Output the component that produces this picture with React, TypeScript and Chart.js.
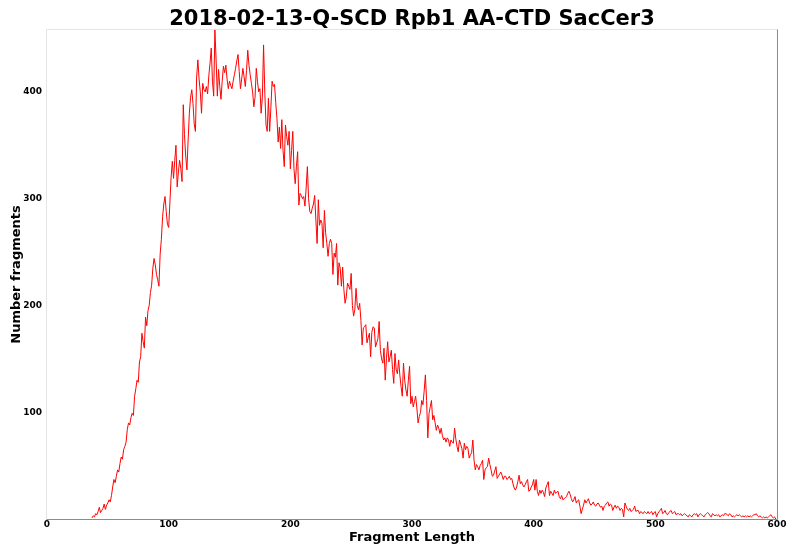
import React, { useEffect, useRef } from "react";
import { Chart, registerables } from "chart.js";

Chart.register(...registerables);

const TITLE = "2018-02-13-Q-SCD Rpb1 AA-CTD SacCer3";
const X_LABEL = "Fragment Length";
const Y_LABEL = "Number fragments";

// first fragment length in the counts list (one value per length, step 1)
const FIRST_LENGTH = 37;

const counts: number[] = [
  // 37-39
  1, 3, 2,
  // 40-99
  5, 4, 7, 11, 6, 8, 10, 14, 9, 13,
  15, 18, 16, 22, 30, 37, 34, 40, 46, 44,
  52, 58, 56, 65, 68, 72, 84, 90, 88, 95,
  99, 97, 115, 122, 130, 128, 147, 152, 174, 166,
  160, 189, 181, 195, 200, 212, 219, 235, 244, 238,
  229, 224, 218, 248, 262, 283, 295, 302, 288, 276,
  // 100-199
  273, 296, 320, 335, 319, 336, 350, 311, 325, 336,
  328, 316, 388, 360, 340, 327, 355, 380, 395, 402,
  389, 370, 363, 414, 430, 412, 400, 380, 408, 402,
  400, 405, 398, 415, 427, 441, 410, 396, 458, 430,
  396, 421, 405, 393, 410, 424, 418, 425, 412, 403,
  410, 406, 403, 410, 416, 422, 429, 435, 419, 403,
  412, 422, 414, 405, 420, 439, 425, 416, 408, 400,
  386, 395, 422, 410, 400, 403, 380, 395, 444, 400,
  369, 363, 394, 363, 385, 410, 405, 407, 390, 375,
  353, 367, 347, 374, 345, 330, 369, 358, 350, 363,
  // 200-299
  328, 345, 363, 328, 314, 330, 344, 294, 305, 303,
  300, 302, 293, 310, 330, 300, 288, 286, 291, 295,
  303, 280, 258, 299, 275, 280, 277, 254, 289, 268,
  258, 246, 258, 262, 258, 229, 249, 245, 258, 219,
  240, 235, 218, 236, 215, 202, 208, 221, 218, 215,
  230, 200, 190, 196, 216, 200, 196, 202, 186, 163,
  179, 180, 182, 165, 170, 174, 152, 175, 180, 179,
  161, 165, 169, 185, 158, 150, 146, 160, 130, 150,
  166, 147, 152, 158, 140, 127, 155, 140, 136, 149,
  135, 124, 115, 146, 130, 121, 115, 130, 143, 108,
  // 300-399
  115, 105, 110, 115, 104, 90, 96, 100, 111, 107,
  120, 135, 111, 76, 99, 105, 111, 93, 97, 90,
  83, 88, 85, 80, 85, 78, 74, 76, 72, 76,
  74, 68, 74, 72, 71, 85, 75, 68, 63, 74,
  70, 66, 57, 71, 65, 68, 66, 57, 60, 62,
  74, 55, 46, 51, 49, 46, 50, 52, 55, 37,
  46, 48, 49, 57, 51, 46, 40, 41, 45, 49,
  38, 40, 42, 44, 41, 37, 40, 40, 37, 38,
  40, 37, 38, 33, 29, 27, 30, 35, 41, 33,
  35, 32, 30, 32, 35, 37, 26, 27, 30, 32,
  // 400-499
  37, 27, 37, 26, 22, 27, 24, 27, 25, 21,
  29, 32, 35, 22, 26, 24, 22, 27, 24, 25,
  26, 21, 19, 22, 18, 19, 20, 21, 24, 26,
  23, 19, 16, 18, 21, 15, 17, 18, 12, 5,
  9, 13, 18, 15, 17, 19, 15, 13, 14, 16,
  13, 12, 14, 15, 13, 11, 12, 8, 12, 13,
  15, 16, 12, 14, 13, 8, 11, 13, 10, 12,
  11, 8, 10, 9, 2, 15, 12, 9, 8, 10,
  7, 8, 9, 12, 7, 8, 8, 5, 7, 6,
  5, 7, 6, 5, 7, 5, 6, 7, 4, 6,
  // 500-599
  7, 2, 5, 7, 8, 10, 5, 6, 8, 5,
  4, 6, 7, 8, 5, 6, 7, 4, 5, 5,
  4, 5, 3, 4, 5, 4, 3, 2, 4, 3,
  2, 4, 5, 4, 5, 2, 4, 5, 4, 3,
  2, 4, 5, 6, 5, 3, 2, 5, 4, 3,
  4, 3, 4, 2, 3, 4, 3, 5, 5, 4,
  3, 5, 4, 2, 3, 2, 3, 4, 3, 4,
  3, 2, 3, 2, 3, 2, 3, 2, 3, 2,
  3, 4, 4, 5, 3, 2, 3, 2, 1, 2,
  1, 2, 1, 2, 3, 4, 2, 1, 2, 0,
];

const lengths: number[] = counts.map((_, i) => FIRST_LENGTH + i);

const xTicks = [0, 100, 200, 300, 400, 500, 600];
const yTicks = [100, 200, 300, 400];

const FONT = "'DejaVu Sans', 'Liberation Sans', sans-serif";

const framePlugin = {
  id: "frame",
  afterDraw(chart: any) {
    const { ctx, chartArea } = chart;
    const { left, right, top, bottom } = chartArea;
    ctx.save();
    ctx.lineWidth = 1;
    ctx.strokeStyle = "#e4e4e4";
    ctx.beginPath();
    ctx.moveTo(left - 0.5, bottom);
    ctx.lineTo(left - 0.5, top - 0.5);
    ctx.lineTo(right, top - 0.5);
    ctx.stroke();
    ctx.strokeStyle = "#8c8c8c";
    ctx.beginPath();
    ctx.moveTo(right + 0.5, top - 0.5);
    ctx.lineTo(right + 0.5, bottom + 0.5);
    ctx.lineTo(left - 0.5, bottom + 0.5);
    ctx.stroke();
    ctx.restore();
  },
};

export default function App() {
  const canvasRef = useRef<HTMLCanvasElement | null>(null);

  useEffect(() => {
    if (!canvasRef.current) return;
    const chart = new Chart(canvasRef.current, {
      type: "line",
      data: {
        datasets: [
          {
            data: lengths.map((x, i) => ({ x, y: counts[i] })),
            borderColor: "#ff0000",
            borderWidth: 1,
            pointRadius: 0,
            fill: false,
            tension: 0,
          },
        ],
      },
      options: {
        responsive: false,
        animation: false,
        layout: { padding: { top: 0, right: 11, bottom: 0, left: 0 } },
        plugins: {
          legend: { display: false },
          tooltip: { enabled: false },
          title: {
            display: true,
            text: TITLE,
            fullSize: false,
            color: "#000",
            font: { family: FONT, size: 21, weight: "bold", lineHeight: 0.95 },
            padding: { top: 10, bottom: 0 },
          },
        },
        scales: {
          x: {
            type: "linear",
            min: 0,
            max: 600,
            grid: { display: false, drawTicks: false },
            border: { display: false },
            afterBuildTicks: (s: any) => {
              s.ticks = xTicks.map((v) => ({ value: v }));
            },
            afterFit: (s: any) => {
              s.height = 27;
              s.paddingLeft = 0;
              s.paddingRight = 0;
            },
            ticks: {
              color: "#000",
              padding: 0,
              maxRotation: 0,
              autoSkip: false,
              font: { family: FONT, size: 9, weight: "bold" },
            },
            title: {
              display: true,
              text: X_LABEL,
              color: "#000",
              font: { family: FONT, size: 13, weight: "bold" },
              padding: { top: 0, bottom: 1 },
            },
          },
          y: {
            type: "linear",
            min: 0,
            max: Math.max(...counts),
            grid: { display: false, drawTicks: false },
            border: { display: false },
            afterBuildTicks: (s: any) => {
              s.ticks = yTicks.map((v) => ({ value: v }));
            },
            afterFit: (s: any) => {
              s.width = 47;
              s.paddingTop = 0;
              s.paddingBottom = 0;
            },
            ticks: {
              color: "#000",
              padding: 5,
              autoSkip: false,
              font: { family: FONT, size: 9, weight: "bold" },
            },
            title: {
              display: true,
              text: Y_LABEL,
              color: "#000",
              font: { family: FONT, size: 13, weight: "bold" },
              padding: { top: 9, bottom: 0 },
            },
          },
        },
      },
      plugins: [framePlugin],
    });
    return () => chart.destroy();
  }, []);

  return (
    <div style={{ position: "fixed", left: 0, top: 0, width: 788, height: 546, background: "#fff" }}>
      <canvas ref={canvasRef} width={788} height={546} />
    </div>
  );
}
